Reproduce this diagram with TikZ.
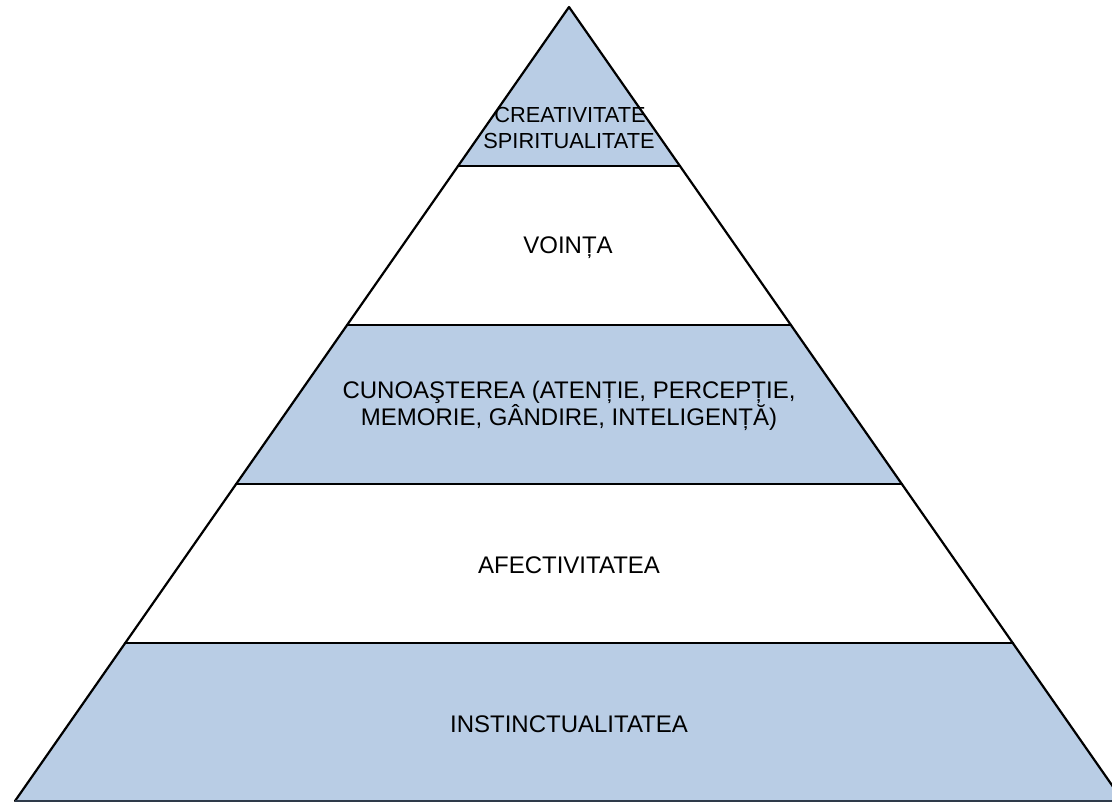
\documentclass[tikz,border=0pt]{standalone}
\usepackage{fontspec}
\setmainfont{Liberation Sans}
\definecolor{bandblue}{HTML}{B9CDE5}
\definecolor{baseline}{HTML}{2E3A4A}
\begin{document}
\begin{tikzpicture}[x=1pt,y=-1pt,
  lbl/.style={font=\fontsize{24}{27}\selectfont, text=black, inner sep=0pt, anchor=base},
  lblsmall/.style={font=\fontsize{21.8}{26}\selectfont, text=black, inner sep=0pt, anchor=base},
  edge/.style={line width=2.2pt, line cap=round, line join=round}]
\useasboundingbox (0,0) rectangle (1112,802);
\clip (0,0) rectangle (1112,802);
\coordinate (A) at (569,7);
\coordinate (L1) at (458,166); \coordinate (R1) at (680,166);
\coordinate (L2) at (347,325); \coordinate (R2) at (791,325);
\coordinate (L3) at (236,484); \coordinate (R3) at (902,484);
\coordinate (L4) at (125,643); \coordinate (R4) at (1013,643);
\coordinate (L5) at (15,801); \coordinate (R5) at (1123,801);
\fill[bandblue] (A) -- (R1) -- (L1) -- cycle;
\fill[bandblue] (L2) -- (R2) -- (R3) -- (L3) -- cycle;
\fill[bandblue] (L4) -- (R4) -- (R5) -- (L5) -- cycle;
\draw[edge] (L5) -- (A) -- (R5);
\draw[edge] (L1) -- (R1);
\draw[edge] (L2) -- (R2);
\draw[edge] (L3) -- (R3);
\draw[edge] (L4) -- (R4);
\draw[line width=2pt, color=baseline] (L5) -- (R5);
\node[lblsmall] (t1a) at (570,123) {CREATIVITATE};
\node[lblsmall] (t1b) at (569,149) {SPIRITUALITATE};
\node[lbl] (t2) at (568,254) {VOINȚA};
\node[lbl] (t3a) at (569,399) {CUNOAŞTEREA (ATENȚIE, PERCEPȚIE,};
\node[lbl] (t3b) at (569,426) {MEMORIE, GÂNDIRE, INTELIGENȚĂ)};
\node[lbl] (t4) at (569,573) {AFECTIVITATEA};
\node[lbl] (t5) at (569,732) {INSTINCTUALITATEA};
\end{tikzpicture}
\end{document}
